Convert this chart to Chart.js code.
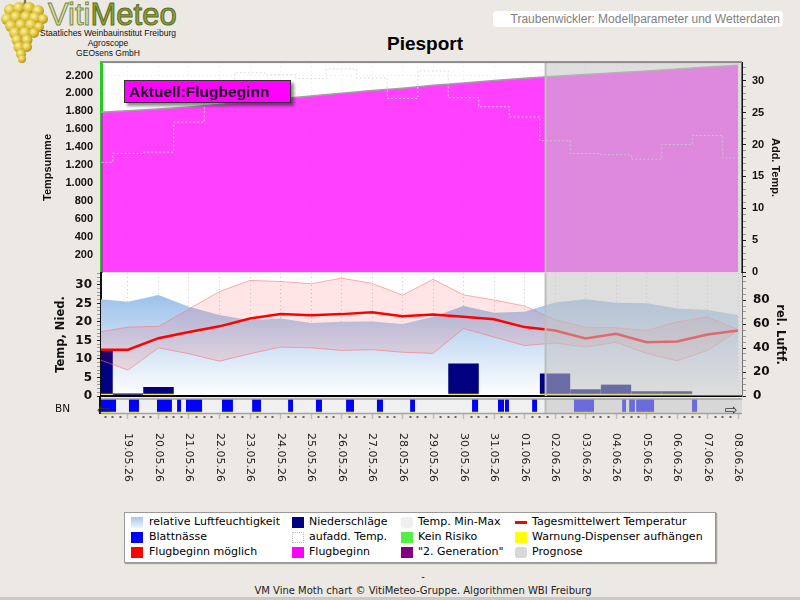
<!DOCTYPE html>
<html lang="de">
<head>
<meta charset="utf-8">
<title>Piesport – Traubenwickler</title>
<script src="https://cdn.jsdelivr.net/npm/chart.js@4.4.1/dist/chart.umd.min.js"></script>
<style>
html,body{margin:0;padding:0}
body{width:800px;height:600px;overflow:hidden;position:relative;background:#ece9e4;font-family:"Liberation Sans",Arial,sans-serif}
canvas{position:absolute;left:0}
.abs{position:absolute;white-space:nowrap}
.lg{position:absolute;font-family:"DejaVu Sans",sans-serif;font-size:11px;line-height:14px;color:#000;white-space:nowrap}
.sw{position:absolute;width:12px;height:11px}
</style>
</head>
<body>
<svg class="abs" style="left:0;top:0" width="50" height="64" viewBox="0 0 50 64">
  <defs>
    <radialGradient id="gr" cx="0.38" cy="0.35" r="0.7">
      <stop offset="0" stop-color="#fff3a0"/>
      <stop offset="0.55" stop-color="#dcc23c"/>
      <stop offset="1" stop-color="#a88a18"/>
    </radialGradient>
  </defs>
  <path d="M24 0 L26 0 L27 6 L23 6 Z" fill="#8a7a30"/>
  <g fill="url(#gr)">
    <circle cx="10" cy="10" r="6"/><circle cx="19" cy="8" r="6"/><circle cx="29" cy="8" r="6"/><circle cx="38" cy="11" r="6"/>
    <circle cx="7" cy="19" r="6"/><circle cx="16" cy="17" r="6"/><circle cx="26" cy="17" r="6"/><circle cx="35" cy="18" r="6"/><circle cx="43" cy="19" r="5"/>
    <circle cx="11" cy="26" r="6"/><circle cx="21" cy="25" r="6"/><circle cx="31" cy="25" r="6"/><circle cx="39" cy="27" r="5"/>
    <circle cx="15" cy="33" r="6"/><circle cx="25" cy="33" r="6"/><circle cx="34" cy="33" r="5"/>
    <circle cx="17" cy="40" r="5.5"/><circle cx="27" cy="40" r="5.5"/>
    <circle cx="19" cy="47" r="5.5"/><circle cx="27" cy="47" r="5"/>
    <circle cx="21" cy="54" r="5"/><circle cx="22" cy="59" r="4"/>
  </g>
</svg>
<div class="abs" style="left:48px;top:-1px;font-size:31px;line-height:31px">
  <span style="color:#d9dfb8;-webkit-text-stroke:1px #7d8d3a">Viti</span><span style="color:#8fa23e;-webkit-text-stroke:1px #5d6d22">Meteo</span>
</div>
<div class="abs" style="left:28px;top:28px;width:160px;text-align:center;font-size:8.5px;line-height:10px;color:#111">Staatliches Weinbauinstitut Freiburg</div>
<div class="abs" style="left:28px;top:38px;width:160px;text-align:center;font-size:8.5px;line-height:10px;color:#111">Agroscope</div>
<div class="abs" style="left:28px;top:48px;width:160px;text-align:center;font-size:8.5px;line-height:10px;color:#111">GEOsens GmbH</div>

<div class="abs" style="left:493px;top:11px;width:287px;height:16px;padding-right:3px;background:#fff;border-radius:4px;text-align:right;font-size:12px;line-height:16px;color:#7f7f7f">Traubenwickler: Modellparameter und Wetterdaten</div>
<div class="abs" style="left:325px;top:33px;width:200px;text-align:center;font-size:19px;line-height:22px;font-weight:bold;color:#000">Piesport</div>

<canvas id="cTop" width="800" height="239" style="top:48px"></canvas>
<canvas id="cMid" width="800" height="155" style="top:257px"></canvas>
<canvas id="cBn" width="800" height="110" style="top:392px"></canvas>

<div class="abs" style="left:124px;top:80px;width:161px;height:21px;padding-left:4px;background:#ff00ff;border:1px solid #333;box-shadow:3px 3px 3px rgba(0,0,0,0.45);font-size:15.5px;font-weight:bold;line-height:21px;color:#111">Aktuell:Flugbeginn</div>

<div class="abs" style="left:55px;top:401px;font-family:'DejaVu Sans',sans-serif;font-size:10.5px;line-height:14px;color:#111">BN</div>
<div class="abs" style="left:97px;top:403px;font-family:'DejaVu Sans',sans-serif;font-size:15px;line-height:15px;color:#333">&#8678;</div>
<div class="abs" style="left:725px;top:403px;font-family:'DejaVu Sans',sans-serif;font-size:15px;line-height:15px;color:#333">&#8680;</div>

<div class="abs" style="left:124px;top:512px;width:590px;height:49px;background:#fff;border:1px solid #9a9a9a;box-shadow:1px 1px 1px rgba(0,0,0,0.3)"></div>
<div id="legend"></div>

<div class="abs" style="left:0;top:571px;width:846px;text-align:center;font-family:'DejaVu Sans',sans-serif;font-size:10px;line-height:12px;color:#222">-</div>
<div class="abs" style="left:0;top:585px;width:846px;text-align:center;font-family:'DejaVu Sans',sans-serif;font-size:10px;line-height:12px;color:#222">VM Vine Moth chart © VitiMeteo-Gruppe. Algorithmen WBI Freiburg</div>
<div class="abs" style="left:0;top:597px;width:800px;height:3px;background:#cbc9c4"></div>

<script>
// ---------------- data ----------------
const dates = ['18.05.26','19.05.26','20.05.26','21.05.26','22.05.26','23.05.26','24.05.26','25.05.26','26.05.26','27.05.26','28.05.26','29.05.26','30.05.26','31.05.26','01.06.26','02.06.26','03.06.26','04.06.26','05.06.26','06.06.26','07.06.26','08.06.26'];
const tempSum = [1788,1807,1826,1849,1877,1908,1939,1970,2001,2031,2058,2090,2117,2143,2170,2192,2212,2232,2251,2272,2294,2314];
const tempMax = [17.2,18.6,18.8,23.5,28.2,31.2,30.9,30.3,31.8,30.4,27.2,31.5,27.3,25.9,24.3,20.6,18.6,18.4,17.7,20.0,21.4,17.9];
const tempMin = [10.0,7.0,13.0,11.4,9.4,11.4,13.2,13.0,12.3,12.5,11.8,11.5,18.2,15.9,13.6,14.3,13.2,14.5,11.5,9.5,12.3,17.7];
const tempMean = [12.5,12.5,15.6,17.3,18.8,20.9,22.1,21.8,22.1,22.6,21.5,22.0,21.4,20.7,18.6,17.7,15.5,16.8,14.5,14.7,16.6,17.7];
const humidity = [81,78.6,84.2,74.4,67.4,63.2,64.6,60.9,61.8,62,60,66,75,69.3,70.2,78,80.6,77.7,77.2,73,71.6,67.4];
const precip = [12.6,0.7,2.4,0,0,0,0,0,0,0,0,0,8.8,0,0,6.1,1.8,3.1,1.3,1.3,0,0];
// leaf wetness periods (day index, fractional)
const bnStart = [0.00,1.03,1.95,2.61,2.90,4.08,5.07,6.25,7.16,8.15,9.16,10.25,12.28,13.13,13.36,14.25,15.62,17.20,17.43,17.66,19.49];
const bnEnd   = [0.61,1.36,2.44,2.74,3.43,4.44,5.36,6.41,7.36,8.41,9.36,10.41,12.48,13.33,13.49,14.41,16.28,17.33,17.62,18.25,19.66];
const progStart = 14.69; // start of forecast (Prognose)

const legendItems = [
  ['relative Luftfeuchtigkeit','hum'],['Blattnässe','#0000ff'],['Flugbeginn möglich','#ff0000'],
  ['Niederschläge','#000080'],['aufadd. Temp.','dot'],['Flugbeginn','#ff00ff'],
  ['Temp. Min-Max','minmax'],['Kein Risiko','#55ee44'],['"2. Generation"','#800080'],
  ['Tagesmittelwert Temperatur','line'],['Warnung-Dispenser aufhängen','#ffff00'],['Prognose','prog']
];

// ---------------- helpers ----------------
const X_MIN = 0.115, X_MAX = 21.13;
const pts = arr => arr.map((v, i) => ({x: i, y: v}));
const fmtK = v => v >= 1000 ? Math.floor(v / 1000) + '.' + String(v % 1000).padStart(3, '0') : String(v);

Chart.defaults.font.family = '"Liberation Sans", Arial, sans-serif';
Chart.defaults.animation = false;

const bgPlugin = color => ({id: 'bg', beforeDraw(chart) {
  const a = chart.chartArea, c = chart.ctx;
  c.save(); c.fillStyle = color; c.fillRect(a.left, a.top, a.right - a.left, a.bottom - a.top); c.restore();
}});
const progPlugin = {id: 'prog', afterDatasetsDraw(chart) {
  const a = chart.chartArea, c = chart.ctx;
  const x0 = chart.scales.x.getPixelForValue(progStart);
  c.save();
  c.fillStyle = 'rgba(194,194,194,0.55)';
  c.fillRect(x0, a.top, a.right - x0, a.bottom - a.top);
  c.strokeStyle = '#bdbdbd'; c.lineWidth = 2;
  c.beginPath(); c.moveTo(x0, a.top); c.lineTo(x0, a.bottom); c.stroke();
  c.restore();
}};
const topBorder = {id: 'topBorder', afterDraw(chart) {
  const a = chart.chartArea, c = chart.ctx;
  c.save(); c.fillStyle = '#8a8a8a'; c.fillRect(a.left, a.top - 1.5, a.right - a.left, 2); c.restore();
}};
const baseLine = {id: 'baseLine', afterDatasetsDraw(chart) {
  const a = chart.chartArea, c = chart.ctx;
  c.save(); c.strokeStyle = '#000'; c.lineWidth = 2;
  c.beginPath(); c.moveTo(a.left, a.bottom); c.lineTo(a.right, a.bottom); c.stroke(); c.restore();
}};
const stripBorder = {id: 'stripBorder', afterDraw(chart) {
  const a = chart.chartArea, c = chart.ctx;
  c.save(); c.strokeStyle = '#a2a2a2'; c.lineWidth = 1.5;
  c.beginPath(); c.moveTo(a.left, a.top); c.lineTo(a.right, a.top);
  c.moveTo(a.left, a.bottom + 0.5); c.lineTo(a.right, a.bottom + 0.5); c.stroke();
  c.strokeStyle = '#111'; c.lineWidth = 2;
  c.beginPath(); c.moveTo(a.left - 1, a.top - 3); c.lineTo(a.left - 1, a.bottom + 1); c.stroke();
  c.restore();
}};
const dateLabels = {id: 'dateLabels', afterDraw(chart) {
  const sc = chart.scales.x, c = chart.ctx, a = chart.chartArea;
  c.save();
  c.font = '11px "DejaVu Sans"'; c.fillStyle = '#222'; c.textAlign = 'left'; c.textBaseline = 'middle';
  dates.forEach((d, i) => {
    if (i < sc.min || i > sc.max) return;
    c.save(); c.translate(sc.getPixelForValue(i), a.bottom + 20); c.rotate(Math.PI / 2);
    c.fillText(d, 0, 0); c.restore();
  });
  c.restore();
}};

const xHidden = (gridColor, z) => ({
  type: 'linear', min: X_MIN, max: X_MAX, z: z, offset: false,
  ticks: {display: false, stepSize: 1, includeBounds: false},
  grid: {drawTicks: false, color: gridColor, lineWidth: 1, offset: false},
  border: {display: false, dash: [1, 3]},
  afterFit(s) { s.height = 0; }
});
const minorMajor = (step) => ctx => (ctx.tick && Math.abs(ctx.tick.value % step) < 1e-9) ? '#222' : '#9a9a9a';
const baseOpts = {responsive: false, animation: false, events: [], devicePixelRatio: 1,
  plugins: {legend: {display: false}, tooltip: {enabled: false}}};

// ---------------- top panel: Tempsumme ----------------
new Chart(document.getElementById('cTop'), {
  type: 'line',
  data: {datasets: [
    {label: 'aufadd. Temp.', data: pts(tempMax), yAxisID: 'y1', stepped: 'middle',
     borderColor: 'rgba(215,215,215,0.85)', borderWidth: 1, borderDash: [2, 2], pointRadius: 0, fill: false, order: 1},
    {label: 'Tempsumme', data: pts(tempSum), yAxisID: 'y', borderColor: '#a0a0a0', borderWidth: 1.5,
     backgroundColor: 'rgba(255,0,255,0.75)', fill: 'origin', pointRadius: 0, order: 2}
  ]},
  options: Object.assign({}, baseOpts, {
    layout: {padding: {top: 14, bottom: 14, left: 0, right: 0}},
    scales: {
      x: xHidden('rgba(215,215,215,0.5)', 1),
      y: {position: 'left', min: 0, max: 2344, z: 1,
          ticks: {stepSize: 200, includeBounds: false, autoSkip: false, padding: 8, color: '#111',
                  font: {size: 11, weight: 'bold'}, callback: v => v === 0 ? '' : fmtK(v)},
          grid: {drawTicks: false, color: 'rgba(215,215,215,0.5)'},
          border: {display: true, color: '#22cc22', width: 3, dash: [1, 3]},
          title: {display: true, text: 'Tempsumme', color: '#111', font: {size: 11, weight: 'bold'}, padding: {top: 41, bottom: 0}},
          afterFit(s) { s.width = 101; }},
      y1: {position: 'right', min: 0, max: 32.8, z: 1,
          ticks: {stepSize: 1, includeBounds: false, autoSkip: false, padding: 6, color: '#111',
                  font: {size: 11, weight: 'bold'}, callback: v => v % 5 === 0 ? String(v) : ''},
          grid: {drawOnChartArea: false, drawTicks: true, tickLength: 4, tickColor: minorMajor(5)},
          border: {display: true, color: '#111', width: 2},
          title: {display: true, text: 'Add. Temp.', color: '#111', font: {size: 11, weight: 'bold'}, padding: {top: 18, bottom: 0}},
          afterFit(s) { s.width = 58; }}
    }
  }),
  plugins: [bgPlugin('#ffffff'), progPlugin, topBorder]
});

// ---------------- middle panel: temperature, precipitation, humidity ----------------
const humGradient = ctx => {
  const ch = ctx.chart, a = ch.chartArea;
  if (!a) return 'rgba(160,195,235,0.8)';
  const g = ch.ctx.createLinearGradient(0, a.top, 0, a.bottom);
  g.addColorStop(0, '#88b4e6'); g.addColorStop(1, '#ffffff');
  return g;
};
new Chart(document.getElementById('cMid'), {
  type: 'line',
  data: {datasets: [
    {label: 'Tagesmittelwert Temperatur', data: pts(tempMean), yAxisID: 'y', borderColor: '#ff0000', borderWidth: 2.5,
     pointRadius: 0, fill: false, order: 0},
    {type: 'bar', label: 'Niederschläge', data: precip.map((v, i) => ({x: i, y: v > 0 ? v : null})), yAxisID: 'y',
     backgroundColor: '#000080', borderColor: '#f2ee30', borderWidth: {top: 0, left: 0, right: 0, bottom: 2},
     borderSkipped: false, barPercentage: 1, categoryPercentage: 1, order: 4},
    {label: 'Temp. Max', data: pts(tempMax), yAxisID: 'y', borderColor: 'rgba(255,120,120,0.6)', borderWidth: 1,
     pointRadius: 0, fill: '+1', backgroundColor: 'rgba(255,0,0,0.1)', order: 2},
    {label: 'Temp. Min', data: pts(tempMin), yAxisID: 'y', borderColor: 'rgba(255,120,120,0.6)', borderWidth: 1,
     pointRadius: 0, fill: false, order: 3},
    {label: 'relative Luftfeuchtigkeit', data: pts(humidity), yAxisID: 'y1', borderWidth: 0, pointRadius: 0,
     fill: 'origin', backgroundColor: humGradient, order: 5}
  ]},
  options: Object.assign({}, baseOpts, {
    layout: {padding: {top: 16, bottom: 16, left: 0, right: 0}},
    scales: {
      x: xHidden('rgba(185,185,185,0.7)', 0),
      y: {position: 'left', min: 0, max: 33.2, z: 1,
          ticks: {stepSize: 1, includeBounds: false, autoSkip: false, padding: 5, color: '#111',
                  font: {family: '"DejaVu Sans"', size: 12, weight: 'bold'}, callback: v => v % 5 === 0 ? String(v) : ''},
          grid: {drawOnChartArea: false, drawTicks: true, tickLength: 4, tickColor: minorMajor(5)},
          border: {display: true, color: '#111', width: 2},
          title: {display: true, text: 'Temp, Nied.', color: '#111', font: {family: '"DejaVu Sans"', size: 11.5, weight: 'bold'}, padding: {top: 54, bottom: 0}},
          afterFit(s) { s.width = 101; }},
      y1: {position: 'right', min: 0, max: 102.5, z: 1,
          ticks: {stepSize: 5, includeBounds: false, autoSkip: false, padding: 7, color: '#111',
                  font: {family: '"DejaVu Sans"', size: 12, weight: 'bold'}, callback: v => (v % 20 === 0 && v < 100) ? String(v) : ''},
          grid: {drawOnChartArea: false, drawTicks: true, tickLength: 4, tickColor: minorMajor(20)},
          border: {display: true, color: '#777', width: 1},
          title: {display: true, text: 'rel. Luftf.', color: '#111', font: {family: '"DejaVu Sans"', size: 11.5, weight: 'bold'}, padding: {top: 13, bottom: 0}},
          afterFit(s) { s.width = 58; }}
    }
  }),
  plugins: [bgPlugin('#ffffff'), baseLine, progPlugin]
});

// ---------------- BN strip (Blattnässe) + date axis ----------------
new Chart(document.getElementById('cBn'), {
  type: 'bar',
  data: {datasets: [
    {label: 'Blattnässe', data: bnStart.map((s, i) => ({x: [s, bnEnd[i]], y: 'BN'})),
     backgroundColor: '#0000ff', borderColor: '#f2ee30', borderWidth: {top: 0, left: 0, right: 0, bottom: 1.5},
     borderSkipped: false, barPercentage: 1, categoryPercentage: 1}
  ]},
  options: Object.assign({}, baseOpts, {
    indexAxis: 'y',
    layout: {padding: {top: 7, bottom: 0, left: 101, right: 58}},
    scales: {
      x: {type: 'linear', min: X_MIN, max: X_MAX, offset: false,
          ticks: {display: false, stepSize: 0.25, includeBounds: false},
          grid: {drawOnChartArea: false, drawTicks: true, tickLength: 6, offset: false,
                 tickColor: ctx => (ctx.tick && Number.isInteger(ctx.tick.value)) ? '#bdbdbd' : '#666',
                 tickWidth: ctx => (ctx.tick && Number.isInteger(ctx.tick.value)) ? 1.5 : 2,
                 tickBorderDash: ctx => (ctx.tick && Number.isInteger(ctx.tick.value)) ? [] : [0, 3, 2, 20]},
          border: {display: false},
          afterFit(s) { s.height = 89; }},
      y: {type: 'category', labels: ['BN'], display: false, offset: true}
    }
  }),
  plugins: [bgPlugin('#f0f0f0'), progPlugin, stripBorder, dateLabels]
});

// ---------------- legend (HTML) ----------------
(function () {
  const colSw = [131, 292, 401, 515], colTx = [149, 309, 418, 532], rowY = [515, 530, 545];
  const host = document.getElementById('legend');
  legendItems.forEach((it, k) => {
    const col = Math.floor(k / 3), row = k % 3;
    const sw = document.createElement('div');
    sw.className = 'sw';
    sw.style.left = colSw[col] + 'px'; sw.style.top = (rowY[row] + 2) + 'px';
    const t = it[1];
    if (t === 'hum') sw.style.background = 'linear-gradient(#a6c6ec,#eef4fc)';
    else if (t === 'dot') { sw.style.background = '#fff'; sw.style.border = '1px dotted #bbb'; sw.style.width = '10px'; sw.style.height = '9px'; }
    else if (t === 'minmax') { sw.style.background = '#efefef'; sw.style.borderRadius = '3px'; }
    else if (t === 'prog') { sw.style.background = '#d8d8d8'; sw.style.borderRadius = '3px'; }
    else if (t === 'line') { sw.style.background = '#ff0000'; sw.style.height = '3px'; sw.style.top = (rowY[row] + 6) + 'px'; }
    else sw.style.background = t;
    host.appendChild(sw);
    const tx = document.createElement('div');
    tx.className = 'lg';
    tx.style.left = colTx[col] + 'px'; tx.style.top = rowY[row] + 'px';
    tx.textContent = it[0];
    host.appendChild(tx);
  });
})();
</script>
</body>
</html>
